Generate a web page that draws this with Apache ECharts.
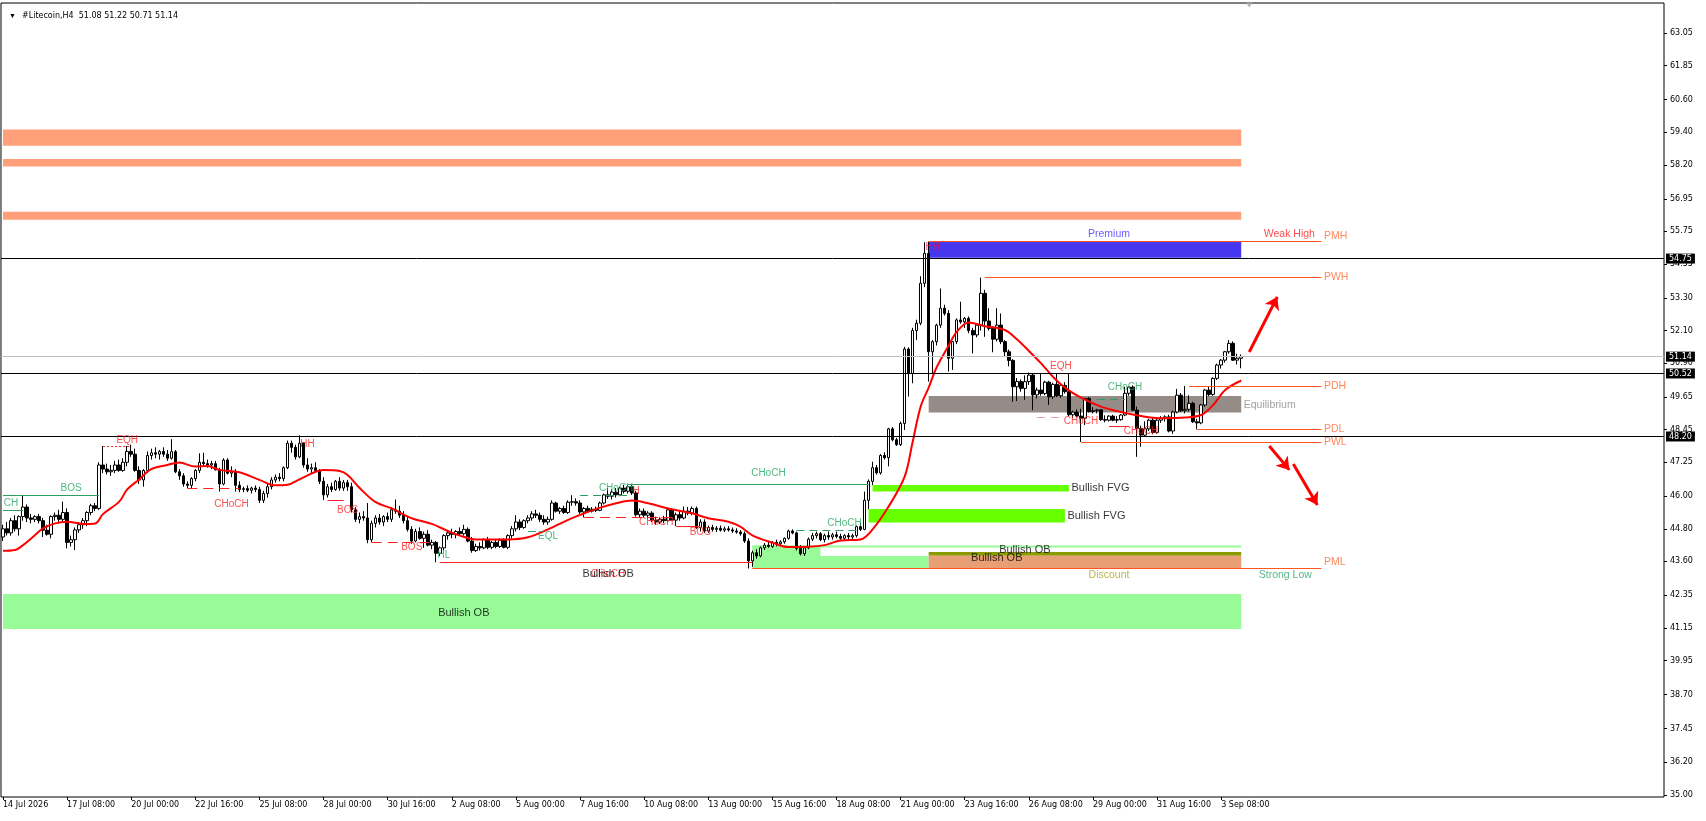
<!DOCTYPE html>
<html><head><meta charset="utf-8">
<script src="https://cdn.jsdelivr.net/npm/echarts@6/dist/echarts.min.js"></script>
<style>html,body{margin:0;padding:0;background:#fff}#c{width:1706px;height:821px}</style>
</head><body><div id="c"></div>
<script>
const symbolName = '#Litecoin,H4';
const tickLabels = ['14 Jul 2026','17 Jul 08:00','20 Jul 00:00','22 Jul 16:00','25 Jul 08:00','28 Jul 00:00','30 Jul 16:00','2 Aug 08:00','5 Aug 00:00','7 Aug 16:00','10 Aug 08:00','13 Aug 00:00','15 Aug 16:00','18 Aug 08:00','21 Aug 00:00','23 Aug 16:00','26 Aug 08:00','29 Aug 00:00','31 Aug 16:00','3 Sep 08:00'];
const priceTicks = [35.00,36.20,37.45,38.70,39.95,41.15,42.35,43.60,44.80,46.00,47.25,48.45,49.65,50.90,52.10,53.30,54.55,55.75,56.95,58.20,59.40,60.60,61.85,63.05];

const opens = [
44.50,44.80,44.65,45.10,44.80,45.25,45.60,45.20,45.15,45.25,
45.10,44.75,44.60,45.25,45.30,45.15,45.40,44.30,44.40,44.76,
44.95,45.10,45.40,45.65,45.55,47.15,47.00,46.90,46.95,47.15,
46.95,47.25,47.65,47.55,46.95,46.60,46.95,47.50,47.60,47.55,
47.65,47.55,47.40,47.64,46.90,46.75,46.45,46.40,46.65,46.95,
47.25,47.20,47.15,47.20,46.97,46.45,47.33,46.85,46.90,46.40,
46.25,46.28,46.22,46.30,46.25,45.85,46.10,46.35,46.60,46.70,
46.65,47.05,47.95,47.80,47.45,47.95,47.15,47.00,47.05,46.95,
46.55,46.05,46.35,46.25,46.55,46.30,46.50,46.35,45.50,45.15,
45.25,45.20,44.40,45.00,45.20,45.05,45.25,45.15,45.50,45.45,
45.30,45.10,44.78,44.35,44.70,44.45,44.60,44.20,44.30,43.90,
44.10,44.55,44.65,44.60,44.70,44.62,44.78,44.35,44.00,44.15,
44.10,44.40,44.12,44.30,44.15,44.38,44.12,44.55,44.80,45.05,
44.85,45.10,45.20,45.35,45.30,45.15,45.05,45.15,45.75,45.45,
45.55,45.40,45.78,45.80,45.75,45.42,45.55,45.45,45.52,45.48,
45.75,46.05,46.00,46.15,46.05,46.30,46.18,46.35,46.12,45.32,
45.45,45.30,45.38,45.12,45.05,45.15,45.10,45.50,45.12,45.32,
45.20,45.45,45.38,45.55,44.85,45.05,44.72,44.85,44.78,44.82,
44.75,44.80,44.76,44.72,44.68,44.62,44.35,43.62,43.92,43.80,
44.10,44.20,44.15,44.30,44.25,44.32,44.45,44.72,44.65,44.08,
43.88,44.10,44.42,44.55,44.62,44.40,44.55,44.50,44.58,44.52,
44.45,44.55,44.50,44.55,44.88,44.78,45.85,46.55,47.05,46.86,
47.50,47.42,48.48,48.08,47.90,48.68,51.42,50.52,52.10,52.37,
53.84,54.94,51.32,51.69,52.30,52.92,52.73,51.08,51.69,52.49,
52.42,52.55,52.10,51.94,52.30,53.47,52.45,52.18,51.78,52.30,
51.69,51.32,51.00,50.03,50.22,49.97,50.22,50.46,49.73,49.91,
49.78,50.20,49.66,50.12,49.70,50.08,49.85,49.00,49.10,48.95,
48.87,49.60,49.12,49.15,49.18,48.82,48.80,48.95,48.80,48.82,
48.99,49.79,50.02,49.17,48.50,48.25,48.48,48.80,48.35,48.80,
48.88,48.92,48.40,49.10,49.72,49.15,49.20,49.42,48.74,48.70,
49.36,49.91,49.75,50.34,50.83,51.01,51.32,51.63,51.01,51.08];
const highs = [
44.95,45.05,45.20,45.30,45.30,46.05,45.70,45.35,45.30,45.35,
45.20,44.95,45.30,45.40,45.50,45.80,45.55,44.55,44.85,45.05,
45.20,45.45,45.72,45.75,47.25,47.85,47.20,47.15,47.30,47.35,
47.40,47.85,47.90,47.75,47.10,47.00,47.65,47.75,47.80,47.70,
47.80,47.70,48.10,47.70,47.00,46.85,46.55,46.70,47.00,47.58,
47.60,47.35,47.30,47.30,47.05,47.40,47.40,47.10,47.00,46.55,
46.35,46.40,46.35,46.40,46.35,46.20,46.45,46.70,46.80,46.85,
47.10,48.05,48.05,47.90,48.24,48.00,47.40,47.20,47.25,47.00,
46.70,46.45,46.50,46.60,46.70,46.60,46.60,46.50,45.60,45.40,
45.45,45.75,45.10,45.30,45.35,45.30,45.40,45.60,45.88,45.65,
45.45,45.25,44.90,44.80,44.85,44.70,44.75,44.40,44.35,44.15,
44.60,44.75,44.80,44.75,44.85,44.95,44.85,44.50,44.25,44.30,
44.45,44.50,44.35,44.40,44.45,44.45,44.60,44.90,45.30,45.15,
45.15,45.30,45.45,45.50,45.40,45.30,45.25,45.85,45.80,45.60,
45.65,45.85,46.04,45.92,45.85,45.60,45.65,45.60,45.62,45.80,
46.10,46.30,46.25,46.30,46.35,46.42,46.43,46.42,46.20,45.55,
45.55,45.45,45.45,45.25,45.22,45.28,45.58,45.55,45.40,45.45,
45.62,45.60,45.62,45.62,45.15,45.15,44.92,44.95,44.90,44.92,
44.88,44.90,44.85,44.82,44.75,44.70,44.45,44.00,44.05,44.15,
44.28,44.32,44.35,44.40,44.38,44.48,44.77,44.78,44.70,44.20,
44.15,44.48,44.65,44.70,44.68,44.62,44.70,44.65,44.70,44.62,
44.60,44.65,44.62,44.92,45.02,46.17,46.62,47.27,47.15,47.55,
47.62,48.52,48.55,48.15,48.75,51.50,51.48,52.20,52.50,54.10,
55.35,55.37,51.75,52.35,53.65,53.05,52.85,51.72,52.55,53.16,
52.60,52.62,52.20,52.35,54.05,53.60,52.92,52.25,52.92,52.73,
51.75,51.40,51.05,50.35,50.30,50.45,50.55,50.52,50.00,50.52,
50.25,50.25,50.18,50.52,50.15,50.20,50.52,49.15,49.20,49.22,
49.62,49.65,49.28,49.22,49.20,48.98,48.98,49.00,48.95,49.02,
50.03,50.05,50.08,49.30,48.60,48.76,48.85,48.88,48.85,48.95,
48.98,49.00,49.15,49.95,49.80,50.06,49.72,49.48,48.85,49.40,
49.95,50.05,50.38,50.88,51.05,51.35,51.75,51.70,51.25,51.22];
const lows = [
44.35,44.55,44.55,44.70,44.55,45.10,45.05,45.00,45.05,45.00,
44.50,44.55,44.45,45.10,45.05,45.05,44.08,44.15,44.02,44.65,
44.80,44.90,45.30,45.45,45.50,46.85,46.80,46.75,46.85,46.90,
46.90,47.10,47.45,46.90,46.45,46.35,46.85,47.35,47.40,47.35,
47.45,47.30,47.35,46.85,46.60,46.35,46.30,46.30,46.55,46.85,
47.10,47.05,47.00,46.95,46.17,46.40,46.80,46.70,46.17,46.15,
46.15,46.15,46.10,46.15,45.75,45.75,45.95,46.25,46.50,46.55,
46.55,47.00,47.60,47.35,47.40,47.05,46.90,46.85,46.90,46.45,
45.86,45.95,46.15,46.20,46.20,46.20,46.20,45.40,45.05,45.00,
45.10,44.27,44.30,44.85,44.95,44.90,45.05,45.05,45.35,45.20,
45.00,44.70,44.25,44.30,44.40,44.10,44.15,44.05,43.57,43.80,
44.00,44.40,44.45,44.45,44.55,44.55,44.30,43.92,43.95,44.00,
44.05,44.05,44.05,44.08,44.10,44.08,44.05,44.45,44.70,44.75,
44.80,45.00,45.10,45.20,45.05,44.95,44.95,45.10,45.40,45.35,
45.35,45.35,45.65,45.65,45.35,45.22,45.40,45.40,45.42,45.45,
45.70,45.90,45.88,45.95,46.00,46.10,46.10,46.05,45.25,45.20,
45.22,45.15,45.05,44.95,44.98,45.00,45.05,45.10,44.90,45.10,
45.15,45.30,45.30,44.80,44.70,44.65,44.65,44.70,44.68,44.70,
44.68,44.70,44.65,44.62,44.55,44.28,43.34,43.40,43.70,43.75,
44.02,44.10,44.10,44.15,44.18,44.25,44.40,44.60,44.00,43.82,
43.80,44.05,44.35,44.45,44.35,44.30,44.40,44.40,44.45,44.38,
44.35,44.40,44.42,44.48,44.72,44.75,45.53,46.41,46.80,46.80,
47.35,47.10,48.02,47.85,47.85,48.44,49.67,50.16,51.75,52.30,
53.70,50.22,50.52,51.55,52.20,52.65,50.59,50.65,51.60,52.35,
52.20,52.00,51.26,51.85,52.10,51.87,52.10,51.30,51.70,51.60,
51.14,50.78,49.48,49.50,49.85,49.55,50.10,49.17,49.60,49.70,
49.72,49.36,49.58,49.65,49.62,49.78,48.95,48.88,48.90,48.00,
48.62,49.08,49.05,49.05,48.78,48.72,48.75,48.76,48.70,48.78,
48.95,49.70,49.15,47.45,47.82,48.20,48.40,48.28,48.30,48.70,
48.75,48.35,48.30,49.05,49.10,49.05,49.12,48.70,48.46,48.65,
49.30,49.68,49.70,50.28,50.70,50.92,51.25,50.98,50.85,50.71];
const closes = [
44.80,44.65,45.10,44.80,45.25,45.60,45.20,45.15,45.25,45.10,
44.75,44.60,45.25,45.30,45.15,45.40,44.30,44.40,44.76,44.95,
45.10,45.40,45.65,45.55,47.15,47.00,46.90,46.95,47.15,46.95,
47.25,47.65,47.55,46.95,46.60,46.95,47.50,47.60,47.55,47.65,
47.55,47.40,47.64,46.90,46.75,46.45,46.40,46.65,46.95,47.25,
47.20,47.15,47.20,46.97,46.45,47.33,46.85,46.90,46.40,46.25,
46.28,46.22,46.30,46.25,45.85,46.10,46.35,46.60,46.70,46.65,
47.05,47.95,47.80,47.45,47.95,47.15,47.00,47.05,46.95,46.55,
46.05,46.35,46.25,46.55,46.30,46.50,46.35,45.50,45.15,45.25,
45.20,44.40,45.00,45.20,45.05,45.25,45.15,45.50,45.45,45.30,
45.10,44.78,44.35,44.70,44.45,44.60,44.20,44.30,43.90,44.10,
44.55,44.65,44.60,44.70,44.62,44.78,44.35,44.00,44.15,44.10,
44.40,44.12,44.30,44.15,44.38,44.12,44.55,44.80,45.05,44.85,
45.10,45.20,45.35,45.30,45.15,45.05,45.15,45.75,45.45,45.55,
45.40,45.78,45.80,45.75,45.42,45.55,45.45,45.52,45.48,45.75,
46.05,46.00,46.15,46.05,46.30,46.18,46.35,46.12,45.32,45.45,
45.30,45.38,45.12,45.05,45.15,45.10,45.50,45.12,45.32,45.20,
45.45,45.38,45.55,44.85,45.05,44.72,44.85,44.78,44.82,44.75,
44.80,44.76,44.72,44.68,44.62,44.35,43.62,43.92,43.80,44.10,
44.20,44.15,44.30,44.25,44.32,44.45,44.72,44.65,44.08,43.88,
44.10,44.42,44.55,44.62,44.40,44.55,44.50,44.58,44.52,44.45,
44.55,44.50,44.55,44.88,44.78,45.85,46.55,47.05,46.86,47.50,
47.42,48.48,48.08,47.90,48.68,51.42,50.52,52.10,52.37,53.84,
54.94,51.32,51.69,52.30,52.92,52.73,51.08,51.69,52.49,52.42,
52.55,52.10,51.94,52.30,53.47,52.45,52.18,51.78,52.30,51.69,
51.32,51.00,50.03,50.22,49.97,50.22,50.46,49.73,49.91,49.78,
50.20,49.66,50.12,49.70,50.08,49.85,49.00,49.10,48.95,48.87,
49.60,49.12,49.15,49.18,48.82,48.80,48.95,48.80,48.82,48.99,
49.79,50.02,49.17,48.50,48.25,48.48,48.80,48.35,48.80,48.88,
48.92,48.40,49.10,49.72,49.15,49.20,49.42,48.74,48.70,49.36,
49.91,49.75,50.34,50.83,51.01,51.32,51.63,51.01,51.08,51.14];

// moving average (bar index, value)
const maIndex = [0,3,5,8,10,13,16,20,23,25,29,31,34,37,41,44,48,51,54,59,64,68,71,74,78,80,84,86,89,93,97,102,107,111,114,118,126,131,136,141,145,149,153,157,161,166,172,176,181,184,187,192,196,201,205,209,214,217,221,225,227,229,231,233,236,238,241,245,250,253,256,259,262,265,269,274,279,285,290,295,299,302,305,309];
const maValue = [43.99,44.02,44.20,44.57,44.82,45.00,45.06,44.98,45.00,45.35,45.80,46.25,46.62,47.00,47.15,47.24,47.09,47.11,46.97,46.88,46.60,46.40,46.42,46.62,46.90,46.97,46.93,46.78,46.30,45.78,45.55,45.19,44.98,44.72,44.55,44.41,44.41,44.49,44.78,45.13,45.37,45.58,45.74,45.84,45.74,45.55,45.37,45.19,45.06,44.88,44.56,44.29,44.13,44.14,44.20,44.37,44.41,44.78,45.62,46.72,48.00,49.30,50.00,50.75,51.55,52.05,52.40,52.26,52.12,51.78,51.35,50.90,50.40,50.00,49.63,49.30,49.10,48.93,48.87,48.90,48.99,49.36,49.91,50.26];

// zones (rectangles): bar index from/to, price top/bottom
const zoneNames  = ['supply1','supply2','supply3','premium','equilibrium','fvg1','fvg2','obA','obThin','obB','obOlive','obBrown','obBig'];
const zoneFrom   = [0,0,0,231,231,217,216,187,187,187,231,231,0];
const zoneTo     = [309,309,309,309,309,266,265,204,309,231,309,309,309];
const zoneTop    = [59.50,58.42,56.47,55.37,49.69,46.41,45.53,44.19,44.19,43.80,43.95,43.81,42.40];
const zoneBottom = [58.90,58.14,56.18,54.78,49.08,46.17,45.03,43.80,44.11,43.35,43.81,43.35,41.11];

// structure / level segments
const segFrom  = [0,0,25,46,81,92,109,131,144,156,145,168,198,187,231,245,296,298,269,258,273,276];
const segTo    = [5,24,32,59,85,108,187,134,156,216,167,174,213,329,329,329,329,329,329,265,280,281];
const segPrice = [45.49,46.04,47.85,46.29,45.86,44.30,43.57,44.70,46.05,46.44,45.22,44.90,44.76,43.35,55.37,54.05,50.06,48.46,48.00,48.90,49.56,48.59];
const segKind  = ['greenSolid','greenSolid','redDot','redDash','redSolid','redDash','redSolid','greenDash','greenDash','greenSolid','redDash','redSolid','greenDash','orange','orange','orange','orange','orange','orange','pinkDash','greenDash','redSolid'];

// full-width horizontal levels with price tags
const levelValues = [54.75, 51.14, 50.52, 48.20];
const levelKinds  = ['black','grey','black','black'];

// text labels
const labelTexts  = ['Premium','Weak High','HH','EQH','CHoCH','CHoCH','CHoCH','Equilibrium','Bullish FVG','Bullish FVG','Bullish OB','Bullish OB','Discount','Strong Low','CHoCH','CHoCH','CHoCH','Bullish OB','Bullish OB','CH','BOS','EQH','CHoCH','HH','BOS','BOS','HL','EQL','CHoCH','H','CHoCH','BOS','PMH','PWH','PDH','PDL','PWL','PML'];
const labelIndex  = [276,321,232,264,280,269,284,309,266,265,255,248,276,320,191,210,151,151,115,2,17,31,57,76,86,102,110,136,153,158,163,174,329,329,329,329,329,329];
const labelPrice  = [55.65,55.65,55.17,50.77,50.00,48.77,48.38,49.36,46.29,45.27,44.02,43.71,43.10,43.10,46.86,45.00,43.12,43.12,41.72,45.74,46.29,48.07,45.71,47.92,45.47,44.11,43.84,44.54,46.29,46.19,45.03,44.69,55.58,54.06,50.06,48.46,48.00,43.58];
const labelKinds  = ['blue','red','crimson','red','green','red','red','gray','black','black','black','black','olive','teal','green','green','red','black','black','green','green','red','red','red','red','red','green','green','green','red','red','red','orange','orange','orange','orange','orange','orange'];
const labelAnchor = ['c','c','c','c','c','c','c','r','r','r','c','c','c','c','c','c','c','c','c','c','c','c','c','c','c','c','c','c','c','c','c','c','r','r','r','r','r','r'];

// arrows
const arrowStartIdx = [311,316,322];
const arrowStartPrice = [51.31,47.85,47.19];
const arrowEndIdx = [318,321,328];
const arrowEndPrice = [53.34,46.97,45.68];

// ---- styles ----
const zoneColors = {supply1:'#ffa07a',supply2:'#ffa07a',supply3:'#ffa07a',premium:'#4636f0',equilibrium:'#958c88',fvg1:'#66ff00',fvg2:'#66ff00',obA:'#98fb98',obThin:'#98fb98',obB:'#98fb98',obOlive:'#899b00',obBrown:'#e99f74',obBig:'#98fb98'};
const segStyles = {
  greenSolid:{color:'#2e9e62',width:1,type:'solid'},
  greenDash:{color:'#2e9e62',width:1,type:[8,5]},
  redSolid:{color:'#ff2020',width:1,type:'solid'},
  redDash:{color:'#ff2020',width:1,type:[10,6]},
  redDot:{color:'#ff2020',width:1,type:[2,2]},
  orange:{color:'#ff5522',width:1,type:'solid'},
  pinkDash:{color:'#e8a0a8',width:1,type:[8,6]}
};
const levelColors = {black:'#000000', grey:'#c0c0c0'};
const textColors = {blue:'#4433ff',red:'#ff2020',crimson:'#e0103f',green:'#23a860',gray:'#8a8a8a',black:'#000000',olive:'#a8a51c',teal:'#2aa468',orange:'#ff6a35'};
const smallTexts = ['CHoCH','BOS','EQH','HH','HL','EQL','CH','H'];
const bigTexts = ['Bullish FVG','Bullish OB'];

const N_SLOTS = 415;
const LABEL_STEP = 16;
const categories = Array.from({length:N_SLOTS}, (_, i) => 'b' + i);
const showTick = (i) => i % LABEL_STEP === 0 && (i / LABEL_STEP) < tickLabels.length;
const last = closes.length - 1;
const f2 = v => v.toFixed(2);
const header = symbolName + '  ' + f2(opens[last]) + ' ' + f2(highs[last]) + ' ' + f2(lows[last]) + ' ' + f2(closes[last]);

const chart = echarts.init(document.getElementById('c'));
chart.setOption({
  animation:false,
  backgroundColor:'#ffffff',
  textStyle:{fontFamily:'Liberation Sans'},
  title:[
    {text:'\u25BC', left:4, top:8, textStyle:{fontSize:7, color:'#000', fontWeight:'normal'}},
    {text:header, left:17, top:7, textStyle:{fontFamily:'DejaVu Sans', fontSize:8, fontWeight:'normal', color:'#000'}}
  ],
  grid:{left:0, top:3, width:1664, height:794, show:true, borderColor:'#000', borderWidth:1, backgroundColor:'#fff', containLabel:false},
  xAxis:{
    type:'category', data:categories, boundaryGap:true,
    axisLine:{show:false},
    axisTick:{show:true, alignWithLabel:true, length:3, interval:(i)=>showTick(i), lineStyle:{color:'#000'}},
    axisLabel:{interval:(i)=>showTick(i), formatter:(v,i)=>tickLabels[i/LABEL_STEP], align:'left', margin:4, fontFamily:'DejaVu Sans', fontSize:8, color:'#000'},
    splitLine:{show:false}
  },
  yAxis:{
    type:'value', position:'right', min:34.926, max:64.16,
    splitLine:{show:false}, axisLine:{show:false},
    axisTick:{show:true, length:3, lineStyle:{color:'#000'}, customValues:priceTicks},
    axisLabel:{customValues:priceTicks, formatter:v=>Number(v).toFixed(2), margin:6, fontFamily:'DejaVu Sans', fontSize:8, color:'#000'}
  },
  series:[
    {
      type:'line', name:'zones', data:[], z:1, silent:true, clip:false,
      markArea:{silent:true, data: zoneNames.map((n,k)=>[
        {coord:[zoneFrom[k], zoneTop[k]], itemStyle:{color:zoneColors[n], opacity:1}},
        {coord:[zoneTo[k], zoneBottom[k]]}
      ])}
    },
    {
      type:'candlestick', name:'price', z:2, barWidth:3,
      data: opens.map((o,i)=>[o, closes[i], lows[i], highs[i]]),
      itemStyle:{color:'#ffffff', color0:'#000000', borderColor:'#000000', borderColor0:'#000000', borderWidth:1}
    },
    {
      type:'line', name:'MA', z:3, smooth:0.35, symbol:'none', silent:true,
      data: maIndex.map((x,k)=>[x, maValue[k]]),
      lineStyle:{color:'#ff0000', width:2}
    },
    {
      type:'line', name:'levels', data:[], z:4, silent:true, clip:false,
      markLine:{silent:true, symbol:['none','none'], animation:false,
        data: segFrom.map((a,k)=>[
          {coord:[a, segPrice[k]], lineStyle:segStyles[segKind[k]], label:{show:false}},
          {coord:[segTo[k], segPrice[k]]}
        ])
      }
    },
    {
      type:'line', name:'tags', data:[], zlevel:1, z:10, silent:true, clip:false,
      markLine:{silent:true, symbol:['none','none'], animation:false,
        data: levelValues.map((v,k)=>({
          yAxis:v, lineStyle:{color:levelColors[levelKinds[k]], width:1, type:'solid'},
          label:{show:true, position:'end', distance:2, formatter:f2(v), backgroundColor:'#000', color:'#fff', padding:[1,3,1,3], fontFamily:'DejaVu Sans', fontSize:8}
        }))
      }
    },
    {
      type:'line', name:'arrows', data:[], z:5, silent:true, clip:false,
      markLine:{silent:true, symbol:['none','arrow'], symbolSize:12, animation:false, label:{show:false},
        lineStyle:{color:'#ff0000', width:3, type:'solid'},
        data: arrowStartIdx.map((a,k)=>[
          {coord:[a, arrowStartPrice[k]]},
          {coord:[arrowEndIdx[k], arrowEndPrice[k]]}
        ])
      }
    },
    {
      type:'scatter', name:'texts', z:6, silent:true, symbolSize:1, clip:false,
      itemStyle:{color:'rgba(0,0,0,0)'},
      label:{show:true, formatter:p=>p.name, fontFamily:'Liberation Sans'},
      data: labelTexts.map((t,k)=>({
        name:t, value:[labelIndex[k], labelPrice[k]],
        label:{color:textColors[labelKinds[k]], position: labelAnchor[k]==='r' ? 'right' : 'inside', distance:2,
               fontSize: smallTexts.includes(t) ? 10 : (bigTexts.includes(t) ? 11 : 10.5)}
      }))
    },
    {
      type:'scatter', name:'shift', z:6, silent:true, clip:false,
      symbol:'triangle', symbolRotate:180, symbolSize:[7,5], itemStyle:{color:'#a8a8a8'},
      data:[[311, 64.09]]
    }
  ]
});
</script>
</body></html>
